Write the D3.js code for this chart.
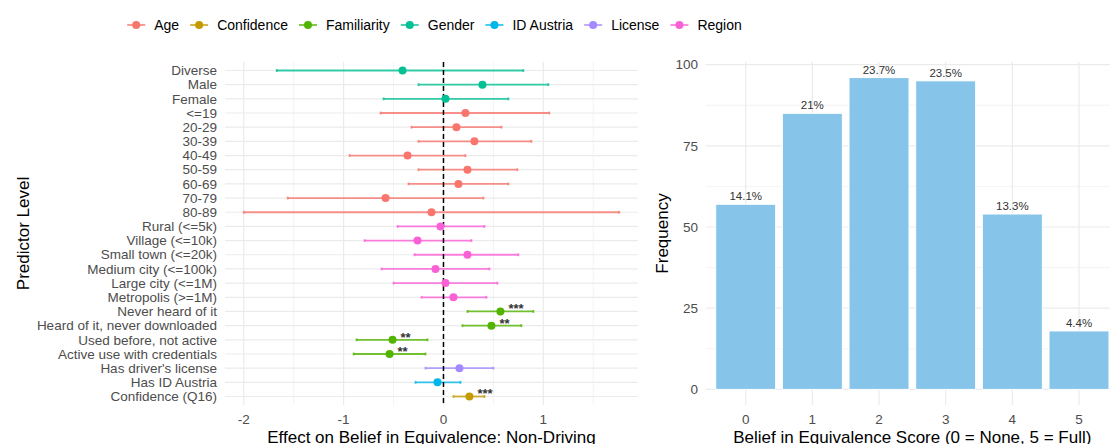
<!DOCTYPE html>
<html>
<head>
<meta charset="utf-8">
<script src="https://cdn.jsdelivr.net/npm/d3@7"></script>
<style>
  body { margin: 0; background: #fff; }
  text { font-family: "Liberation Sans", Arial, sans-serif; }
</style>
</head>
<body>
<svg width="1110" height="444"></svg>
<script>
// ---- data -----------------------------------------------------------------
var levels = ["Diverse", "Male", "Female", "<=19", "20-29", "30-39", "40-49", "50-59",
  "60-69", "70-79", "80-89", "Rural (<=5k)", "Village (<=10k)", "Small town (<=20k)",
  "Medium city (<=100k)", "Large city (<=1M)", "Metropolis (>=1M)", "Never heard of it",
  "Heard of it, never downloaded", "Used before, not active", "Active use with credentials",
  "Has driver's license", "Has ID Austria", "Confidence (Q16)"];
var groups = ["Gender", "Gender", "Gender", "Age", "Age", "Age", "Age", "Age", "Age", "Age",
  "Age", "Region", "Region", "Region", "Region", "Region", "Region", "Familiarity",
  "Familiarity", "Familiarity", "Familiarity", "License", "ID Austria", "Confidence"];
var estimates = [-0.41, 0.39, 0.02, 0.22, 0.13, 0.31, -0.36, 0.24, 0.15, -0.58, -0.12,
  -0.03, -0.26, 0.24, -0.08, 0.02, 0.10, 0.57, 0.48, -0.51, -0.54, 0.16, -0.06, 0.26];
var lower = [-1.67, -0.25, -0.60, -0.63, -0.32, -0.25, -0.94, -0.25, -0.35, -1.56, -2.00,
  -0.46, -0.79, -0.29, -0.62, -0.50, -0.22, 0.24, 0.19, -0.87, -0.90, -0.18, -0.28, 0.10];
var upper = [0.80, 1.05, 0.65, 1.06, 0.58, 0.88, 0.22, 0.74, 0.65, 0.40, 1.76,
  0.41, 0.28, 0.75, 0.46, 0.54, 0.43, 0.90, 0.78, -0.16, -0.18, 0.50, 0.17, 0.41];
var stars = ["", "", "", "", "", "", "", "", "", "", "", "", "", "", "", "", "",
  "***", "**", "**", "**", "", "", "***"];

var legendGroups = ["Age", "Confidence", "Familiarity", "Gender", "ID Austria", "License", "Region"];
var groupColors = ["#F8766D", "#C49A00", "#53B400", "#00C094", "#00B6EB", "#A58AFF", "#FB61D7"];

var scores = ["0", "1", "2", "3", "4", "5"];
var counts = [57, 85, 96, 95, 54, 18];

// ---- setup ----------------------------------------------------------------
var svg = d3.select("svg");
var tickColor = "#4D4D4D";
var gridColor = "#EBEBEB";
var panelTop = 62, panelBottom = 405;

var rows = levels.map(function(l, i) {
  return { level: l, group: groups[i], est: estimates[i], lo: lower[i], hi: upper[i], star: stars[i] };
});

var color = d3.scaleOrdinal().domain(legendGroups).range(groupColors);

//==========================================================================
// Left panel: coefficient plot.
var lx0 = 225, lx1 = 638;
var xmin = d3.min(lower), xmax = d3.max(upper), pad = (xmax - xmin) * 0.05;
var x = d3.scaleLinear().domain([xmin - pad, xmax + pad]).range([lx0, lx1]);
var y = d3.scalePoint().domain(levels).range([panelTop, panelBottom]).padding(0.6);

var lp = svg.append("g");

// minor grid
lp.selectAll(".vminor")
  .data([-1.5, -0.5, 0.5, 1.5])
  .enter().append("line")
  .attr("x1", x).attr("x2", x).attr("y1", panelTop).attr("y2", panelBottom)
  .attr("stroke", gridColor).attr("stroke-width", 0.6);
// major grid
lp.selectAll(".vmajor")
  .data([-2, -1, 0, 1])
  .enter().append("line")
  .attr("x1", x).attr("x2", x).attr("y1", panelTop).attr("y2", panelBottom)
  .attr("stroke", gridColor).attr("stroke-width", 1.2);
lp.selectAll(".hmajor")
  .data(levels)
  .enter().append("line")
  .attr("x1", lx0).attr("x2", lx1)
  .attr("y1", y).attr("y2", y)
  .attr("stroke", gridColor).attr("stroke-width", 1.2);

// error bars
var capH = y.step() * 0.1;
var eb = lp.selectAll(".eb").data(rows).enter().append("g")
  .attr("stroke", function(d) { return color(d.group); })
  .attr("stroke-width", 1.8)
  .attr("stroke-opacity", 0.8);
eb.append("line")
  .attr("x1", function(d) { return x(d.lo); }).attr("x2", function(d) { return x(d.hi); })
  .attr("y1", function(d) { return y(d.level); }).attr("y2", function(d) { return y(d.level); });
eb.append("line")
  .attr("x1", function(d) { return x(d.lo); }).attr("x2", function(d) { return x(d.lo); })
  .attr("y1", function(d) { return y(d.level) - capH; }).attr("y2", function(d) { return y(d.level) + capH; });
eb.append("line")
  .attr("x1", function(d) { return x(d.hi); }).attr("x2", function(d) { return x(d.hi); })
  .attr("y1", function(d) { return y(d.level) - capH; }).attr("y2", function(d) { return y(d.level) + capH; });

// zero line
lp.append("line")
  .attr("x1", x(0)).attr("x2", x(0)).attr("y1", panelTop).attr("y2", panelBottom)
  .attr("stroke", "#000").attr("stroke-width", 1.5).attr("stroke-dasharray", "5,3");

// points
lp.selectAll(".pt").data(rows).enter().append("circle")
  .attr("cx", function(d) { return x(d.est); })
  .attr("cy", function(d) { return y(d.level); })
  .attr("r", 4)
  .attr("fill", function(d) { return color(d.group); });

// significance stars
lp.selectAll(".star").data(rows.filter(function(d) { return d.star; })).enter().append("text")
  .attr("x", function(d) { return x(d.est) + 8; })
  .attr("y", function(d) { return y(d.level) + 2; })
  .attr("font-size", 13).attr("font-weight", "bold").attr("fill", "#333")
  .text(function(d) { return d.star; });

// axes text
lp.selectAll(".ylab").data(levels).enter().append("text")
  .attr("x", 217).attr("y", y).attr("dy", "0.35em")
  .attr("text-anchor", "end").attr("font-size", 13.5).attr("fill", tickColor)
  .text(function(d) { return d; });
lp.selectAll(".xlab").data([-2, -1, 0, 1]).enter().append("text")
  .attr("x", x).attr("y", 424)
  .attr("text-anchor", "middle").attr("font-size", 13.5).attr("fill", tickColor)
  .text(function(d) { return d; });
lp.append("text")
  .attr("x", (lx0 + lx1) / 2).attr("y", 443)
  .attr("text-anchor", "middle").attr("font-size", 17).attr("fill", "#000")
  .text("Effect on Belief in Equivalence: Non-Driving");
lp.append("text")
  .attr("transform", "translate(29," + (panelTop + panelBottom) / 2 + ") rotate(-90)")
  .attr("text-anchor", "middle").attr("font-size", 17).attr("fill", "#000")
  .text("Predictor Level");

// legend
var legend = svg.append("g");
var items = legend.selectAll(".item").data(legendGroups).enter().append("g");
items.append("line").attr("x1", 0).attr("x2", 18).attr("y1", 0).attr("y2", 0)
  .attr("stroke", function(d) { return color(d); }).attr("stroke-width", 1.8).attr("stroke-opacity", 0.8);
items.append("circle").attr("cx", 9).attr("cy", 0).attr("r", 4)
  .attr("fill", function(d) { return color(d); });
items.append("text").attr("x", 27).attr("y", 0).attr("dy", "0.35em")
  .attr("font-size", 14).attr("fill", "#000")
  .text(function(d) { return d; });
var offs = [], cur = 0;
items.each(function() {
  offs.push(cur);
  cur += 27 + this.querySelector("text").getComputedTextLength() + 11;
});
var legendW = cur - 11;
var legendX = (lx0 + lx1) / 2 + 3 - legendW / 2;
items.attr("transform", function(d, i) { return "translate(" + (legendX + offs[i]) + ",25)"; });

//==========================================================================
// Right panel: score distribution.
var rx0 = 705.7, rx1 = 1119;
var total = d3.sum(counts);
var xb = d3.scaleBand().domain(scores).range([rx0, rx1]).paddingInner(0.1).paddingOuter(0.15);
var ymax = d3.max(counts);
var yb = d3.scaleLinear().domain([-ymax * 0.05, ymax * 1.05]).range([panelBottom, panelTop]);

var rp = svg.append("g");
rp.selectAll(".hminor").data([12.5, 37.5, 62.5, 87.5]).enter().append("line")
  .attr("x1", rx0).attr("x2", rx1).attr("y1", yb).attr("y2", yb)
  .attr("stroke", gridColor).attr("stroke-width", 0.6);
rp.selectAll(".hmajor").data([0, 25, 50, 75, 100]).enter().append("line")
  .attr("x1", rx0).attr("x2", rx1).attr("y1", yb).attr("y2", yb)
  .attr("stroke", gridColor).attr("stroke-width", 1.2);
rp.selectAll(".vmajor").data(scores).enter().append("line")
  .attr("x1", function(d) { return xb(d) + xb.bandwidth() / 2; })
  .attr("x2", function(d) { return xb(d) + xb.bandwidth() / 2; })
  .attr("y1", panelTop).attr("y2", panelBottom)
  .attr("stroke", gridColor).attr("stroke-width", 1.2);

rp.selectAll(".bar").data(counts).enter().append("rect")
  .attr("x", function(d, i) { return xb(scores[i]); })
  .attr("width", xb.bandwidth())
  .attr("y", function(d) { return yb(d); })
  .attr("height", function(d) { return yb(0) - yb(d); })
  .attr("fill", "#86C4E9").attr("stroke", "#fff").attr("stroke-width", 1);

rp.selectAll(".pct").data(counts).enter().append("text")
  .attr("x", function(d, i) { return xb(scores[i]) + xb.bandwidth() / 2; })
  .attr("y", function(d) { return yb(d) - 4; })
  .attr("text-anchor", "middle").attr("font-size", 11.5).attr("fill", "#333")
  .text(function(d) { return +(d / total * 100).toFixed(1) + "%"; });

rp.selectAll(".ylab").data([0, 25, 50, 75, 100]).enter().append("text")
  .attr("x", 698).attr("y", yb).attr("dy", "0.35em")
  .attr("text-anchor", "end").attr("font-size", 13.5).attr("fill", tickColor)
  .text(function(d) { return d; });
rp.selectAll(".xlab").data(scores).enter().append("text")
  .attr("x", function(d) { return xb(d) + xb.bandwidth() / 2; }).attr("y", 424)
  .attr("text-anchor", "middle").attr("font-size", 13.5).attr("fill", tickColor)
  .text(function(d) { return d; });
rp.append("text")
  .attr("x", (rx0 + rx1) / 2).attr("y", 443)
  .attr("text-anchor", "middle").attr("font-size", 17).attr("fill", "#000")
  .text("Belief in Equivalence Score (0 = None, 5 = Full)");
rp.append("text")
  .attr("transform", "translate(668," + (panelTop + panelBottom) / 2 + ") rotate(-90)")
  .attr("text-anchor", "middle").attr("font-size", 17).attr("fill", "#000")
  .text("Frequency");
</script>
</body>
</html>
